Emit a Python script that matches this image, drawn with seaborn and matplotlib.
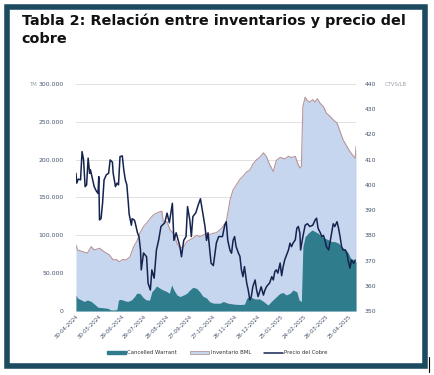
import pandas as pd
import matplotlib.pyplot as plt
import seaborn as sns
from matplotlib.patches import Patch, Rectangle
from matplotlib.lines import Line2D
from matplotlib.ticker import FuncFormatter

# Precio del cobre (ctvs/lb)
price_dates = [
    "2024-04-30", "2024-05-01", "2024-05-03", "2024-05-06", "2024-05-08", "2024-05-10",
    "2024-05-12", "2024-05-14", "2024-05-16", "2024-05-18", "2024-05-19", "2024-05-22",
    "2024-05-24", "2024-05-26", "2024-05-29", "2024-05-30", "2024-05-31", "2024-06-02",
    "2024-06-04", "2024-06-06", "2024-06-09", "2024-06-12", "2024-06-14", "2024-06-17",
    "2024-06-18", "2024-06-21", "2024-06-23", "2024-06-25", "2024-06-27", "2024-06-30",
    "2024-07-02", "2024-07-04", "2024-07-06", "2024-07-08", "2024-07-09", "2024-07-12",
    "2024-07-13", "2024-07-16", "2024-07-17", "2024-07-20", "2024-07-22", "2024-07-24",
    "2024-07-25", "2024-07-28", "2024-08-01", "2024-08-03", "2024-08-06", "2024-08-08",
    "2024-08-11", "2024-08-14", "2024-08-17", "2024-08-20", "2024-08-25", "2024-08-28",
    "2024-08-31", "2024-09-04", "2024-09-06", "2024-09-09", "2024-09-14", "2024-09-16",
    "2024-09-19", "2024-09-22", "2024-09-24", "2024-09-27", "2024-09-29", "2024-10-01",
    "2024-10-05", "2024-10-08", "2024-10-11", "2024-10-14", "2024-10-17", "2024-10-19",
    "2024-10-21", "2024-10-25", "2024-10-28", "2024-11-01", "2024-11-04", "2024-11-09",
    "2024-11-12", "2024-11-14", "2024-11-16", "2024-11-19", "2024-11-21", "2024-11-23",
    "2024-11-25", "2024-11-27", "2024-11-30", "2024-12-02", "2024-12-04", "2024-12-06",
    "2024-12-08", "2024-12-11", "2024-12-13", "2024-12-15", "2024-12-17", "2024-12-19",
    "2024-12-22", "2024-12-24", "2024-12-26", "2024-12-28", "2024-12-30", "2025-01-02",
    "2025-01-04", "2025-01-06", "2025-01-08", "2025-01-10", "2025-01-13", "2025-01-15",
    "2025-01-17", "2025-01-19", "2025-01-21", "2025-01-24", "2025-01-26", "2025-01-28",
    "2025-01-30", "2025-02-04", "2025-02-06", "2025-02-08", "2025-02-10", "2025-02-13",
    "2025-02-15", "2025-02-17", "2025-02-19", "2025-02-20", "2025-02-23", "2025-02-26",
    "2025-03-01", "2025-03-04", "2025-03-08", "2025-03-11", "2025-03-13", "2025-03-15",
    "2025-03-18", "2025-03-20", "2025-03-22", "2025-03-24", "2025-03-26", "2025-03-29",
    "2025-03-31", "2025-04-02", "2025-04-04", "2025-04-06", "2025-04-09", "2025-04-11",
    "2025-04-13", "2025-04-15", "2025-04-17", "2025-04-20", "2025-04-22", "2025-04-24",
    "2025-04-26", "2025-04-28", "2025-05-01", "2025-05-03",
]
price_vals = [
    404.6, 400.7, 402.3, 402.0, 413.2, 409.9,
    399.3, 400.0, 410.6, 404.6, 406.0, 402.0,
    399.3, 398.0, 396.6, 403.3, 386.1, 386.6,
    392.7, 402.0, 404.0, 404.6, 409.9, 409.0,
    404.6, 399.3, 400.7, 400.0, 411.2, 411.5,
    405.9, 402.0, 400.0, 392.7, 388.5, 384.0,
    386.6, 386.0, 385.0, 381.0, 379.5, 374.2,
    366.3, 373.0, 371.5, 361.0, 358.3, 366.3,
    363.0, 374.2, 378.2, 383.5, 385.0, 388.8,
    385.0, 392.7, 378.0, 381.0, 375.5, 371.5,
    378.0, 379.5, 391.4, 386.0, 379.5, 387.4,
    389.0, 392.0, 394.5, 389.0, 383.5, 378.0,
    381.0, 369.0, 368.0, 377.0, 379.5, 379.5,
    384.0, 385.4, 378.0, 374.0, 372.9, 378.0,
    379.5, 375.5, 373.0, 371.7, 366.3, 363.6,
    367.6, 361.0, 358.3, 354.4, 355.7, 359.6,
    362.3, 358.3, 355.7, 357.7, 359.6, 356.3,
    358.3, 359.6, 360.4, 361.0, 363.6, 362.3,
    365.6, 366.3, 365.0, 369.0, 364.0, 367.6,
    370.2, 374.2, 376.9, 375.5, 376.9, 378.2,
    382.8, 383.5, 381.0, 374.2, 379.5, 384.0,
    384.6, 383.5, 384.0, 386.0, 386.8, 382.8,
    381.0, 379.5, 380.0, 378.2, 375.5, 374.2,
    377.6, 381.0, 384.6, 383.5, 385.4, 382.8,
    379.5, 375.5, 374.2, 374.2, 372.9, 369.6,
    367.0, 370.2, 368.9, 370.2,
]

# Inventario BML (TM)
inv_dates = [
    "2024-04-30", "2024-05-02", "2024-05-09", "2024-05-15", "2024-05-20", "2024-05-24",
    "2024-05-31", "2024-06-06", "2024-06-13", "2024-06-18", "2024-06-22", "2024-06-26",
    "2024-07-01", "2024-07-05", "2024-07-10", "2024-07-15", "2024-07-19", "2024-07-23",
    "2024-07-28", "2024-08-01", "2024-08-06", "2024-08-10", "2024-08-14", "2024-08-18",
    "2024-08-21", "2024-08-23", "2024-08-28", "2024-09-01", "2024-09-06", "2024-09-10",
    "2024-09-14", "2024-09-19", "2024-09-23", "2024-09-27", "2024-10-01", "2024-10-06",
    "2024-10-10", "2024-10-14", "2024-10-19", "2024-10-23", "2024-10-28", "2024-11-01",
    "2024-11-08", "2024-11-14", "2024-11-19", "2024-11-23", "2024-11-27", "2024-12-02",
    "2024-12-06", "2024-12-11", "2024-12-15", "2024-12-19", "2024-12-24", "2024-12-28",
    "2025-01-02", "2025-01-06", "2025-01-10", "2025-01-15", "2025-01-19", "2025-01-24",
    "2025-01-30", "2025-02-04", "2025-02-08", "2025-02-13", "2025-02-16", "2025-02-19",
    "2025-02-21", "2025-02-23", "2025-02-26", "2025-03-01", "2025-03-04", "2025-03-08",
    "2025-03-11", "2025-03-14", "2025-03-18", "2025-03-22", "2025-03-26", "2025-03-31",
    "2025-04-04", "2025-04-09", "2025-04-13", "2025-04-17", "2025-04-22", "2025-04-26",
    "2025-05-01", "2025-05-03", "2025-05-04",
]
inv_vals = [
    87300, 80700, 78400, 76400, 85000, 80700,
    82900, 78400, 74100, 67500, 68100, 65200,
    68100, 67500, 71400, 85000, 91700, 102800,
    111500, 116000, 122600, 127000, 129200, 131000,
    132000, 118000, 118000, 107100, 102000, 89500,
    82900, 85000, 91700, 93900, 96100, 100000,
    98400, 100000, 102800, 101000, 102800, 103500,
    109400, 118000, 146800, 160000, 166000, 174000,
    178000, 184000, 186000, 194000, 200000, 203000,
    209000, 204000, 194000, 184300, 199000, 203000,
    201000, 204500, 202700, 204500, 195400, 188800,
    190900, 270200, 282600, 277900, 275900, 279400,
    275900, 280500, 274100, 270200, 261500, 257100,
    252700, 248300, 237200, 226200, 217400, 210700,
    204100, 201900, 217400,
]

# Cancelled Warrant (TM)
cw_dates = [
    "2024-04-30", "2024-05-02", "2024-05-07", "2024-05-11", "2024-05-15", "2024-05-20",
    "2024-05-24", "2024-05-29", "2024-06-04", "2024-06-11", "2024-06-15", "2024-06-20",
    "2024-06-23", "2024-06-25", "2024-06-28", "2024-07-03", "2024-07-07", "2024-07-12",
    "2024-07-16", "2024-07-19", "2024-07-23", "2024-07-28", "2024-08-01", "2024-08-05",
    "2024-08-08", "2024-08-11", "2024-08-14", "2024-08-19", "2024-08-23", "2024-08-28",
    "2024-08-31", "2024-09-03", "2024-09-06", "2024-09-10", "2024-09-14", "2024-09-19",
    "2024-09-23", "2024-09-27", "2024-10-01", "2024-10-06", "2024-10-10", "2024-10-14",
    "2024-10-19", "2024-10-23", "2024-10-28", "2024-11-06", "2024-11-10", "2024-11-16",
    "2024-11-25", "2024-12-02", "2024-12-08", "2024-12-11", "2024-12-15", "2024-12-22",
    "2024-12-28", "2025-01-02", "2025-01-08", "2025-01-13", "2025-01-19", "2025-01-24",
    "2025-01-28", "2025-02-01", "2025-02-06", "2025-02-10", "2025-02-15", "2025-02-18",
    "2025-02-21", "2025-02-23", "2025-02-26", "2025-03-02", "2025-03-07", "2025-03-11",
    "2025-03-15", "2025-03-20", "2025-03-24", "2025-03-29", "2025-04-02", "2025-04-06",
    "2025-04-11", "2025-04-15", "2025-04-20", "2025-04-24", "2025-04-27", "2025-05-01",
    "2025-05-04",
]
cw_vals = [
    21200, 17200, 14500, 12600, 14500, 12600,
    9300, 4900, 4400, 3500, 1300, 1300,
    2200, 14500, 15400, 13700, 12600, 14500,
    18900, 23400, 23400, 17200, 14500, 14500,
    25500, 28700, 33100, 29800, 27700, 25500,
    23400, 34400, 27700, 21200, 19100, 21200,
    23400, 27700, 31300, 29800, 25500, 19700,
    17200, 12300, 10300, 10300, 12600, 10300,
    9000, 8500, 9000, 16800, 18900, 15900,
    15900, 12600, 7900, 13200, 18900, 23400,
    24300, 21200, 23400, 27700, 25300, 14500,
    12600, 85000, 98300, 102800, 107100, 105000,
    102800, 98300, 96100, 93900, 91700, 91700,
    89500, 85000, 80700, 76400, 69700, 67500,
    65200,
]

tick_labels = [
    "30-04-2024", "30-05-2024", "29-06-2024", "29-07-2024", "28-08-2024",
    "27-09-2024", "27-10-2024", "26-11-2024", "26-12-2024", "25-01-2025",
    "24-02-2025", "26-03-2025", "25-04-2025",
]

price = pd.DataFrame({"fecha": pd.to_datetime(price_dates), "precio": price_vals})
inv = pd.DataFrame({"fecha": pd.to_datetime(inv_dates), "tm": inv_vals})
cw = pd.DataFrame({"fecha": pd.to_datetime(cw_dates), "tm": cw_vals})
ticks = pd.to_datetime(tick_labels, format="%d-%m-%Y")

teal = "#2e7c8c"
light_blue = "#c6d6ee"
inv_edge = "#b8959a"
navy = "#15244f"
frame = "#1c4b60"
label_col = "#44546e"

sns.set_theme(style="white")
plt.rcParams["font.family"] = ["DejaVu Sans"]

fig = plt.figure(figsize=(4.35, 3.75), dpi=100)
ax = fig.add_axes([0.1747, 0.1707, 0.6437, 0.6053])

# areas
ax.fill_between(inv["fecha"], inv["tm"], color=light_blue, lw=0, zorder=1)
sns.lineplot(data=inv, x="fecha", y="tm", ax=ax, color=inv_edge, linewidth=0.8, zorder=2)
ax.vlines(inv["fecha"].iloc[-1], 0, inv["tm"].iloc[-1], color=inv_edge, lw=0.8, zorder=2)
ax.fill_between(cw["fecha"], cw["tm"], color=teal, lw=0, zorder=3)

ax.set_ylim(0, 300000)
ax.set_yticks(range(0, 300001, 50000))
ax.yaxis.set_major_formatter(FuncFormatter(lambda v, p: f"{int(v):,}".replace(",", ".")))
ax.set_xlim(pd.Timestamp("2024-04-30"), pd.Timestamp("2025-05-04"))
ax.set_xticks(ticks)
ax.set_xticklabels(tick_labels, rotation=45, ha="right", rotation_mode="anchor")
ax.grid(axis="y", color="#dcdcdc", lw=0.6)
ax.set_axisbelow(True)
ax.set_xlabel("")
ax.set_ylabel("")
for s in ax.spines.values():
    s.set_visible(False)
ax.tick_params(axis="y", length=0, pad=9, labelsize=4.4, labelcolor=label_col)
ax.tick_params(axis="x", length=0, pad=2, labelsize=3.9, labelcolor=label_col)

# price on right axis
ax2 = ax.twinx()
sns.lineplot(data=price, x="fecha", y="precio", ax=ax2, color=navy, linewidth=1.1)
ax2.set_ylim(350, 440)
ax2.set_yticks(range(350, 441, 10))
ax2.set_ylabel("")
ax2.set_xlabel("")
for s in ax2.spines.values():
    s.set_visible(False)
ax2.tick_params(axis="y", length=0, pad=6, labelsize=4.4, labelcolor=label_col)
ax2.grid(False)

fig.text(0.069, 0.776, "TM", fontsize=3.8, color="#9aa0a8", va="center", ha="left")
fig.text(0.885, 0.776, "CTVS/LB", fontsize=3.8, color="#9aa0a8", va="center", ha="left")

handles = [
    Patch(facecolor=teal, edgecolor=teal, label="Cancelled Warrant"),
    Patch(facecolor=light_blue, edgecolor=inv_edge, lw=0.6, label="Inventario BML"),
    Line2D([0], [0], color=navy, lw=1.1, label="Precio del Cobre"),
]
fig.legend(handles=handles, loc="center", bbox_to_anchor=(0.5, 0.059), ncol=3,
           frameon=False, fontsize=3.9, handlelength=3.4, handleheight=0.5,
           columnspacing=2.5, handletextpad=0.3, labelcolor="#333333")

# title and frame
fig.text(0.05, 0.965, "Tabla 2: Relación entre inventarios y precio del\ncobre",
         fontsize=10.4, fontweight="bold", color="#111111", va="top", ha="left",
         linespacing=1.4)
fig.patches.append(Rectangle((0.0161, 0.024), 0.9609, 0.957, transform=fig.transFigure,
                             fill=False, edgecolor=frame, lw=4, zorder=10))
fig.lines.append(Line2D([0.986, 0.986], [0.008, 0.048], transform=fig.transFigure,
                        color="black", lw=0.8))

fig.savefig("out.png", dpi=100)
